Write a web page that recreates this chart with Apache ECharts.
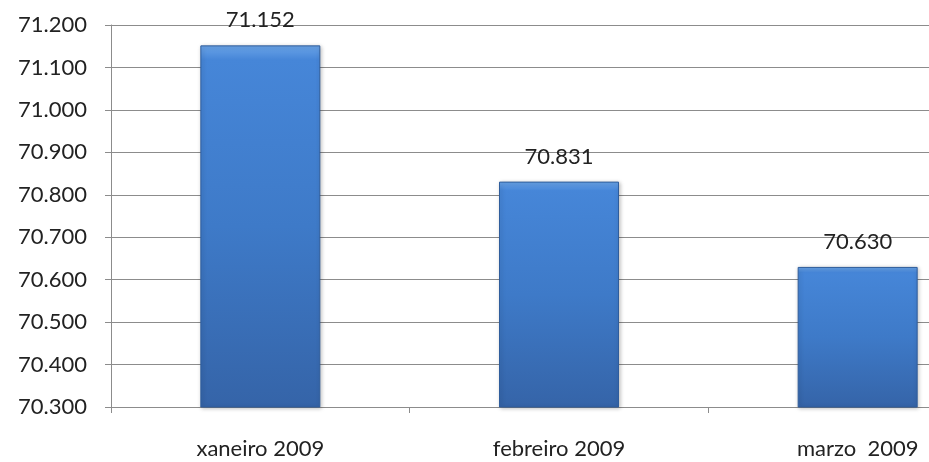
<!DOCTYPE html>
<html>
<head>
<meta charset="utf-8">
<script src="https://cdn.jsdelivr.net/npm/echarts@6/dist/echarts.min.js"></script>
<style>
  html, body { margin: 0; padding: 0; background: #fff; overflow: hidden; }
  #wrap { width: 929px; height: 462px; overflow: hidden; }
  #chart { width: 1010px; height: 462px; }
</style>
</head>
<body>
<div id="wrap"><div id="chart"></div></div>
<script>
const categories = ['xaneiro 2009', 'febreiro 2009', 'marzo  2009']
const values = [71152, 70831, 70630]
const yMin = 70300
const yMax = 71200
const yStep = 100

// 71152 -> "71.152"
function fmt (v) {
  return String(Math.round(v)).replace(/\B(?=(\d{3})+(?!\d))/g, '.')
}

const chart = echarts.init(document.getElementById('chart'))
chart.setOption({
  animation: false,
  grid: { left: 111, top: 25, width: 896, height: 382, containLabel: false },
  xAxis: {
    type: 'category',
    data: categories,
    axisLine: { lineStyle: { color: '#8c8c8c', width: 1 } },
    axisTick: { show: true, length: 6, lineStyle: { color: '#8c8c8c' } },
    axisLabel: { color: '#222', fontFamily: 'Lato', fontSize: 22, margin: 31 }
  },
  yAxis: {
    type: 'value',
    min: yMin,
    max: yMax,
    interval: yStep,
    axisLine: { show: true, lineStyle: { color: '#8c8c8c', width: 1 } },
    axisTick: { show: true, length: 6, lineStyle: { color: '#8c8c8c' } },
    axisLabel: { color: '#222', fontFamily: 'Lato', fontSize: 22, margin: 24, formatter: fmt },
    splitLine: { lineStyle: { color: '#8c8c8c', width: 1 } }
  },
  series: [{
    type: 'bar',
    data: values,
    barWidth: 120,
    itemStyle: {
      color: new echarts.graphic.LinearGradient(0, 0, 0, 1, [
        { offset: 0, color: '#6aa4e8' },
        { offset: 0.04, color: '#4686d8' },
        { offset: 0.5, color: '#3e7ac8' },
        { offset: 1, color: '#3564a8' }
      ]),
      borderColor: '#2f5d9c',
      borderWidth: 1,
      shadowColor: 'rgba(0,0,0,0.25)',
      shadowBlur: 4,
      shadowOffsetX: 1,
      shadowOffsetY: 1
    },
    label: {
      show: true,
      position: 'top',
      distance: 14,
      color: '#222',
      fontFamily: 'Lato',
      fontSize: 22,
      formatter: p => fmt(p.value)
    }
  }]
})
</script>
</body>
</html>
